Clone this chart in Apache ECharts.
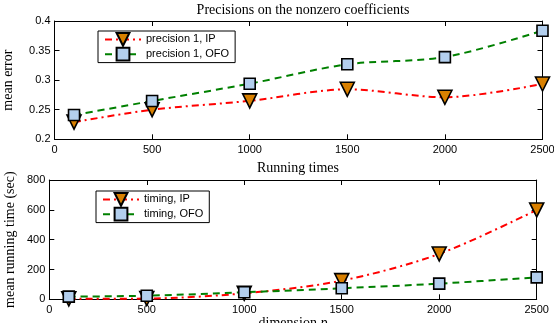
<!DOCTYPE html>
<html><head><meta charset="utf-8">
<script src="https://cdn.jsdelivr.net/npm/echarts@6/dist/echarts.min.js"></script>
<style>html,body{margin:0;padding:0;background:#fff}#c{width:554px;height:323px}</style>
</head><body><div id="c"></div>
<script>
const dims = [100, 500, 1000, 1500, 2000, 2500];
const precisionIP = [0.229, 0.250, 0.265, 0.2845, 0.271, 0.2935];
const precisionOFO = [0.241, 0.2648, 0.294, 0.3268, 0.339, 0.3836];
const timingIP = [3, 5, 40, 125, 304, 599];
const timingOFO = [18, 24, 47, 74, 105, 147];
const xTicks = [0, 500, 1000, 1500, 2000, 2500];
const errTicks = [0.2, 0.25, 0.3, 0.35, 0.4];
const timeTicks = [0, 200, 400, 600, 800];

const chart = echarts.init(document.getElementById('c'));
const sans = 'Liberation Sans';
const serif = 'Liberation Serif';
const pair = (xs, ys) => xs.map((x, i) => [x, ys[i]]);
const tri = {symbol: 'triangle', symbolRotate: 180, symbolSize: 14,
  itemStyle: {color: '#d98000', borderColor: '#000', borderWidth: 1.6}};
const sq = {symbol: 'rect', symbolSize: 11,
  itemStyle: {color: '#b3cfee', borderColor: '#000', borderWidth: 1.6}};
const ipLine = {color: '#ff0000', width: 2, type: [7, 4, 2, 4]};
const ofoLine = {color: '#008000', width: 2, type: [7, 5]};

function xAx(gi, pos, show) {
  return {type: 'value', gridIndex: gi, position: pos, min: xTicks[0], max: xTicks[xTicks.length - 1], interval: 500,
    axisLine: {show: true, onZero: false, lineStyle: {color: '#000', width: 1}},
    axisTick: {show: true, inside: true, length: 5, lineStyle: {color: '#000'}},
    axisLabel: {show: show, color: '#000', fontFamily: sans, fontSize: 11, margin: 5, formatter: v => String(v)},
    splitLine: {show: false}};
}
function yAx(gi, pos, show, ticks, interval, name, gap) {
  return {type: 'value', gridIndex: gi, position: pos, min: ticks[0], max: ticks[ticks.length - 1], interval: interval,
    name: show ? name : '', nameLocation: 'middle', nameGap: gap, nameMoveOverlap: false,
    nameTextStyle: {fontFamily: serif, fontSize: 14, color: '#000'},
    axisLine: {show: true, onZero: false, lineStyle: {color: '#000', width: 1}},
    axisTick: {show: true, inside: true, length: 5, lineStyle: {color: '#000'}},
    axisLabel: {show: show, color: '#000', fontFamily: sans, fontSize: 11, margin: 4, formatter: v => String(v)},
    splitLine: {show: false}};
}

const legendBase = {orient: 'vertical', itemWidth: 36, itemHeight: 16, itemGap: 0,
  padding: [1, 6, 1, 6], borderColor: '#000', borderWidth: 1, backgroundColor: '#fff',
  textStyle: {fontFamily: sans, fontSize: 11, color: '#000'}};
const titleStyle = {fontFamily: serif, fontSize: 14, fontWeight: 'normal', color: '#000'};

chart.setOption({
  animation: false,
  backgroundColor: '#fff',
  title: [
    {text: 'Precisions on the nonzero coefficients', left: 298, top: -2, textAlign: 'center', textStyle: titleStyle},
    {text: 'Running times', left: 293, top: 156, textAlign: 'center', textStyle: titleStyle},
    {text: '{a|dimension }{b|p}', left: 293, top: 316, textAlign: 'center', padding: 0,
      textStyle: {fontWeight: 'normal', rich: {a: {fontFamily: serif, fontSize: 14, fontWeight: 'normal', color: '#000'},
        b: {fontFamily: serif, fontStyle: 'italic', fontWeight: 'normal', fontSize: 14, color: '#000'}}}}
  ],
  grid: [
    {left: 54.5, right: 11.5, top: 21, height: 118.3, outerBoundsMode: 'none', containLabel: false},
    {left: 49.3, right: 17.3, top: 180, height: 119.3, outerBoundsMode: 'none', containLabel: false}
  ],
  legend: [
    Object.assign({left: 98, top: 31, data: ['precision 1, IP', 'precision 1, OFO']}, legendBase),
    Object.assign({left: 96, top: 191, data: ['timing, IP', 'timing, OFO']}, legendBase)
  ],
  xAxis: [xAx(0, 'bottom', true), xAx(0, 'top', false), xAx(1, 'bottom', true), xAx(1, 'top', false)],
  yAxis: [
    yAx(0, 'left', true, errTicks, 0.05, 'mean error', 39),
    yAx(0, 'right', false, errTicks, 0.05, '', 0),
    yAx(1, 'left', true, timeTicks, 200, 'mean running time (sec)', 32),
    yAx(1, 'right', false, timeTicks, 200, '', 0)
  ],
  series: [
    Object.assign({type: 'line', name: 'precision 1, IP', xAxisIndex: 0, yAxisIndex: 0, smooth: 0.3,
      data: pair(dims, precisionIP), lineStyle: ipLine, z: 3}, tri),
    Object.assign({type: 'line', name: 'precision 1, OFO', xAxisIndex: 0, yAxisIndex: 0, smooth: 0.3,
      data: pair(dims, precisionOFO), lineStyle: ofoLine, z: 3}, sq),
    Object.assign({type: 'line', name: 'timing, IP', xAxisIndex: 2, yAxisIndex: 2, smooth: 0.3,
      data: pair(dims, timingIP), lineStyle: ipLine, z: 3}, tri),
    Object.assign({type: 'line', name: 'timing, OFO', xAxisIndex: 2, yAxisIndex: 2, smooth: 0.3,
      data: pair(dims, timingOFO), lineStyle: ofoLine, z: 4}, sq)
  ]
});
</script></body></html>
